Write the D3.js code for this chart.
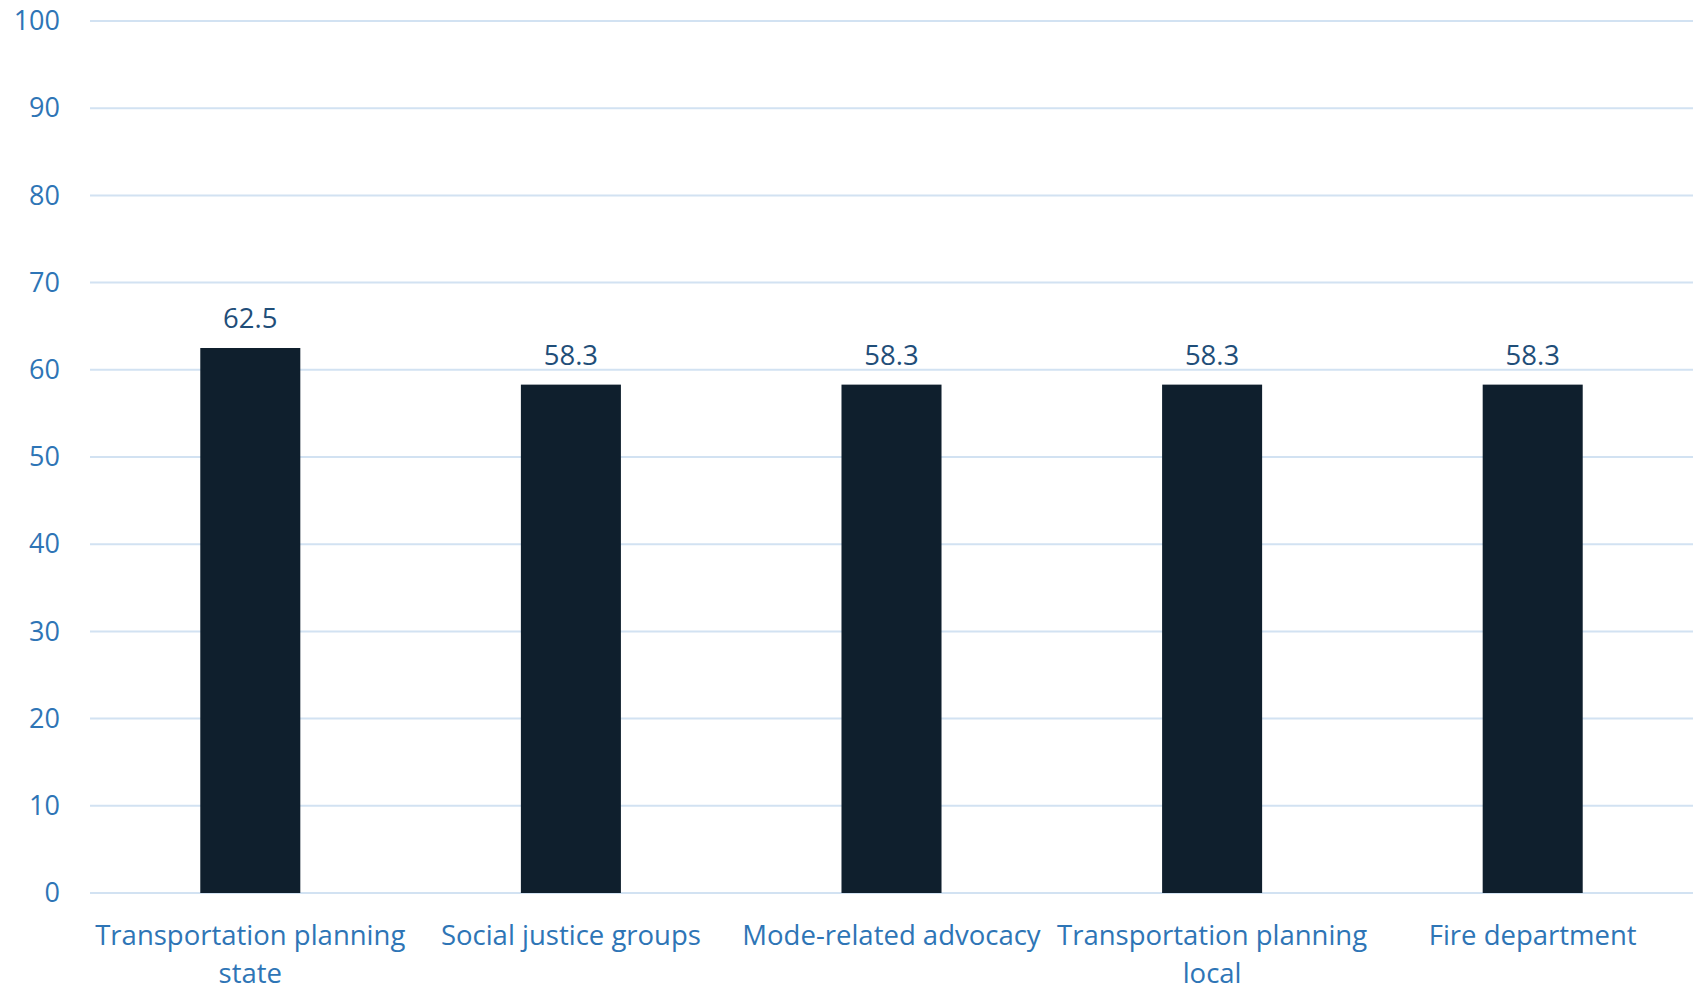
<!DOCTYPE html>
<html>
<head>
<meta charset="utf-8">
<script src="https://cdn.jsdelivr.net/npm/d3@7"></script>
<style>
  body { margin: 0; background: #fff; }
  text { font-family: "Open Sans", sans-serif; }
</style>
</head>
<body>
<div id="chart"></div>
<script>
let categories = ["Transportation planning state", "Social justice groups", "Mode-related advocacy", "Transportation planning local", "Fire department"];
let values = [62.5, 58.3, 58.3, 58.3, 58.3];
let yTicks = [0, 10, 20, 30, 40, 50, 60, 70, 80, 90, 100];

let width = 1698, height = 989;
let margin = { top: 21, right: 5, bottom: 96, left: 90 };

let svg = d3.select("#chart")
    .append("svg")
    .attr("width", width)
    .attr("height", height);

let x = d3.scaleBand()
    .domain(categories)
    .range([margin.left, width - margin.right])
    .padding(0);

let y = d3.scaleLinear()
    .domain([0, 100])
    .range([height - margin.bottom, margin.top]);

// gridlines
svg.append("g")
    .selectAll("line")
    .data(yTicks)
    .join("line")
    .attr("x1", margin.left)
    .attr("x2", width - margin.right)
    .attr("y1", d => y(d))
    .attr("y2", d => y(d))
    .attr("stroke", "#d2e2f2")
    .attr("stroke-width", 2);

// y axis labels
let yAxis = svg.append("g")
    .attr("transform", `translate(${margin.left},0)`)
    .call(d3.axisLeft(y).tickValues(yTicks).tickSize(0).tickPadding(30));
yAxis.select(".domain").remove();
yAxis.selectAll("text")
    .attr("fill", "#2e75b6")
    .style("font-size", "27px");

let barW = x.bandwidth() * 0.312;

svg.append("g")
    .selectAll("rect")
    .data(values)
    .join("rect")
    .attr("x", (d, i) => x(categories[i]) + x.bandwidth() / 2 - barW / 2)
    .attr("y", d => y(d))
    .attr("width", barW)
    .attr("height", d => y(0) - y(d))
    .attr("fill", "#0f1f2d");

svg.append("g")
    .selectAll("text")
    .data(values)
    .join("text")
    .attr("x", (d, i) => x(categories[i]) + x.bandwidth() / 2)
    .attr("y", d => y(d) - 20)
    .attr("text-anchor", "middle")
    .attr("fill", "#1f4e79")
    .style("font-size", "27.5px")
    .text(d => d.toFixed(1));

// x axis labels, wrapped to band width
let xLabels = svg.append("g")
    .selectAll("text")
    .data(categories)
    .join("text")
    .attr("x", d => x(d) + x.bandwidth() / 2)
    .attr("y", height - margin.bottom + 52)
    .attr("text-anchor", "middle")
    .attr("fill", "#2e75b6")
    .style("font-size", "27.5px");

xLabels.each(function (d) {
    let el = d3.select(this);
    let words = d.split(" ");
    let line = [];
    let cx = el.attr("x");
    let tspan = el.append("tspan").attr("x", cx).attr("dy", 0);
    words.forEach(w => {
        line.push(w);
        tspan.text(line.join(" "));
        if (tspan.node().getComputedTextLength() > x.bandwidth() - 2 && line.length > 1) {
            line.pop();
            tspan.text(line.join(" "));
            line = [w];
            tspan = el.append("tspan").attr("x", cx).attr("dy", 38).text(w);
        }
    });
});
</script>
</body>
</html>
